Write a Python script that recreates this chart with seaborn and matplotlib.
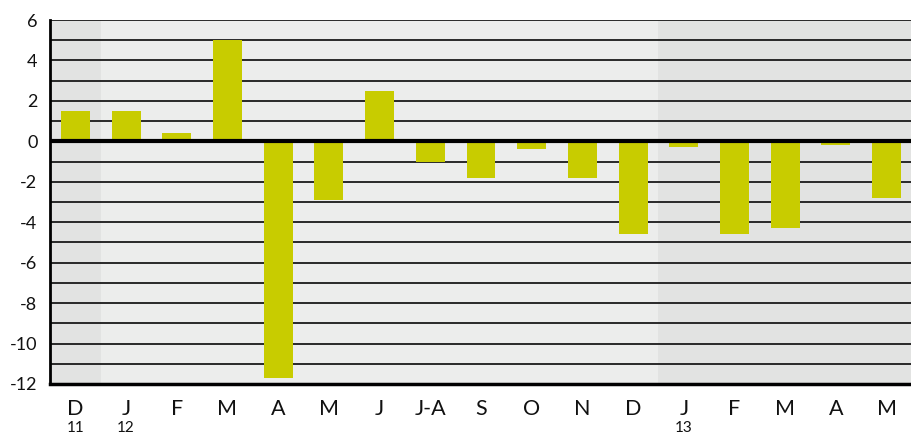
import numpy as np
import pandas as pd
import seaborn as sns
import matplotlib
import matplotlib.pyplot as plt
import matplotlib.transforms as mtransforms
from matplotlib.ticker import MultipleLocator, FixedLocator

months = ['D', 'J', 'F', 'M', 'A', 'M', 'J', 'J-A', 'S', 'O', 'N', 'D', 'J', 'F', 'M', 'A', 'M']
years = ['11', '12', '12', '12', '12', '12', '12', '12', '12', '12', '12', '12', '13', '13', '13', '13', '13']
values = [1.5, 1.5, 0.4, 5.0, -11.7, -2.9, 2.5, -1.0, -1.8, -0.4, -1.8, -4.6, -0.3, -4.6, -4.3, -0.2, -2.8]
year_marks = {0: '11', 1: '12', 12: '13'}

sns.set_style('white')
plt.rcParams['font.family'] = ['Lato', 'DejaVu Sans']
plt.rcParams['axes.unicode_minus'] = False

data = pd.DataFrame({'key': [m + '_' + y + '_' + str(i) for i, (m, y) in enumerate(zip(months, years))],
                     'value': values})

fig = plt.figure(figsize=(9.12, 4.34), dpi=100)
ax = fig.add_axes([50 / 912, 1 - 384 / 434, 1 - 50 / 912, (384 - 20) / 434])

ax.set_facecolor('#ecedec')
ax.axvspan(-0.5, 0.5, color='#e2e3e2', zorder=0, lw=0)
ax.axvspan(11.5, 16.5, color='#e2e3e2', zorder=0, lw=0)

for v in range(-11, 7):
    ax.axhline(v, color='#1a1a1a', lw=1.3, zorder=1)

sns.barplot(data=data, x='key', y='value', color='#c8cc00', saturation=1, width=0.57,
            linewidth=0, ax=ax, zorder=2)
ax.axhline(0, color='black', lw=3, zorder=3)

ax.set_xlim(-0.5, 16.5)
ax.set_ylim(-12, 6)
ax.yaxis.set_major_locator(MultipleLocator(2))
ax.set_xticks(range(len(months)))
ax.set_xticklabels(months, fontsize=15.5)
ax.xaxis.set_minor_locator(FixedLocator(np.arange(0.5, 16, 1)))
ax.tick_params(axis='x', which='major', length=0, pad=10.5, colors='#111111')
ax.tick_params(axis='x', which='minor', length=6, width=1.5, color='black', direction='out')
ax.tick_params(axis='y', length=0, labelsize=13, pad=9, colors='#111111')
ax.set_xlabel('')
ax.set_ylabel('')

# year labels under the first month of each year
trans = mtransforms.blended_transform_factory(ax.transData, fig.transFigure)
for i, y in year_marks.items():
    ax.text(i, 1 - 432 / 434, y, transform=trans, ha='center', va='baseline',
            fontsize=11, color='#111111')

for s in ['top', 'right']:
    ax.spines[s].set_visible(False)
ax.spines['left'].set_color('black')
ax.spines['left'].set_linewidth(2)
ax.spines['bottom'].set_color('black')
ax.spines['bottom'].set_linewidth(2.5)

fig.savefig('out.png', dpi=100)
